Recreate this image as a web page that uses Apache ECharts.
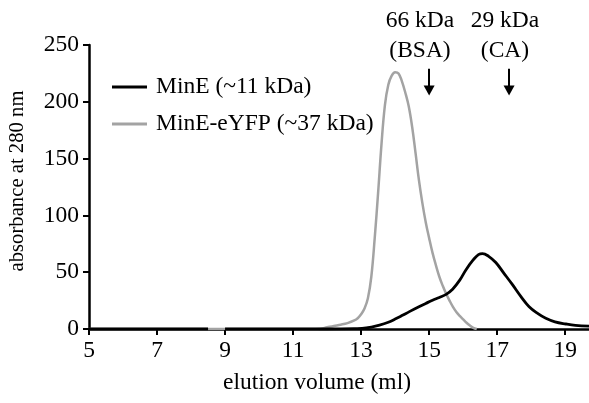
<!DOCTYPE html>
<html><head><meta charset="utf-8">
<script src="https://cdn.jsdelivr.net/npm/echarts@6/dist/echarts.min.js"></script>
<style>html,body{margin:0;padding:0;background:#fff}#c{width:589px;height:403px}</style>
</head><body><div id="c"></div>
<script>
const xTicks = [5, 7, 9, 11, 13, 15, 17, 19];
const yTicks = [0, 50, 100, 150, 200, 250];
const seriesNames = ['MinE (~11 kDa)', 'MinE-eYFP (~37 kDa)'];
const xAxisName = 'elution volume (ml)';
const yAxisName = 'absorbance at 280 nm';

const mineX = [5, 6, 7, 8, 8.5, 8.7, 9.0, 10, 11, 12, 12.8, 13.15, 13.54, 13.8, 14.03, 14.2, 14.42, 14.7, 14.9, 15.1, 15.3, 15.5, 15.69, 15.9, 16.08, 16.3, 16.45, 16.57, 16.75, 16.96, 17.2, 17.45, 17.7, 17.94, 18.2, 18.43, 18.7, 19.02, 19.3, 19.7];
const mineY = [0, 0, 0, 0, 0, null, 0, 0, 0, 0, 0.3, 0.9, 3.5, 6, 9.2, 11.8, 15.3, 19.6, 22.5, 25.3, 27.8, 30.5, 35, 43, 52, 61, 65.5, 66.4, 64, 58.5, 49, 39, 28.5, 19.6, 13.5, 9.4, 6.3, 4.4, 3.2, 2.6];

const yfpX = [5, 6, 7, 8, 8.5, 9.0, 10, 11, 11.5, 11.8, 12.0, 12.2, 12.4, 12.6, 12.8, 12.9, 13.0, 13.1, 13.2, 13.3, 13.4, 13.5, 13.6, 13.7, 13.8, 13.9, 14.0, 14.1, 14.2, 14.3, 14.4, 14.5, 14.6, 14.7, 14.8, 14.9, 15.0, 15.1, 15.2, 15.3, 15.4, 15.5, 15.6, 15.7, 15.8, 15.9, 16.0, 16.1, 16.2, 16.3, 16.4];
const yfpY = [0, 0, 0, 0, 0, 0, 0, 0, 0, 0.3, 1.5, 2.7, 3.8, 5.2, 7.5, 9.5, 13, 18, 27, 46, 80, 120, 163, 197, 215, 223, 226, 225, 218, 208, 196, 178, 155, 131, 111, 94, 80, 67, 56, 46, 38, 31, 25, 19.5, 15, 11.5, 8.5, 5.5, 3, 1, 0];

const arrowX = [15.0, 17.35];
const arrowY = [229, 210];
const annotations = [['66 kDa', '(BSA)'], ['29 kDa', '(CA)']];

const FONT = 'Liberation Serif';
const FS = 23.5;
const chart = echarts.init(document.getElementById('c'));
const zip = (xs, ys) => xs.map((x, i) => [x, ys[i]]);
const txt = (t, x, y, extra) => ({ type: 'text', x: x, y: y, ...(extra || {}), style: { text: t, x: 0, y: 0, align: 'center', verticalAlign: 'middle', fontFamily: FONT, fontSize: FS, fill: '#000' } });

const yName = txt(yAxisName, 18, 181, { rotation: Math.PI / 2 });
yName.style.fontSize = 20.7;

chart.setOption({
  animation: false,
  grid: { left: 89, right: 0, top: 45, bottom: 74, containLabel: false, outerBoundsMode: 'none' },
  legend: {
    data: seriesNames,
    orient: 'vertical',
    left: 112, top: 75, padding: 0,
    itemWidth: 35, itemHeight: 3, itemGap: 13,
    icon: 'rect',
    textStyle: { fontFamily: FONT, fontSize: FS, color: '#000', padding: [0, 0, 0, 4] }
  },
  xAxis: {
    type: 'value', min: 5, max: 19.7, interval: 2,
    axisLine: { lineStyle: { color: '#000', width: 2.5 } },
    axisTick: { show: true, length: 6, lineStyle: { color: '#000', width: 2 }, customValues: xTicks },
    axisLabel: { fontFamily: FONT, fontSize: FS, color: '#000', margin: 10, customValues: xTicks },
    splitLine: { show: false }
  },
  yAxis: {
    type: 'value', min: 0, max: 250, interval: 50,
    axisLine: { show: true, lineStyle: { color: '#000', width: 2.5 } },
    axisTick: { show: true, length: 6, lineStyle: { color: '#000', width: 2 }, customValues: yTicks },
    axisLabel: { fontFamily: FONT, fontSize: FS, color: '#000', margin: 10, customValues: yTicks },
    splitLine: { show: false }
  },
  graphic: [
    txt(xAxisName, 317, 383),
    yName,
    txt(annotations[0][0], 420, 21),
    txt(annotations[0][1], 420, 51),
    txt(annotations[1][0], 505, 21),
    txt(annotations[1][1], 505, 51)
  ],
  series: [
    {
      name: seriesNames[1], type: 'line', data: zip(yfpX, yfpY),
      showSymbol: false, smooth: 0.4, color: '#a3a3a3',
      lineStyle: { color: '#a3a3a3', width: 2.5 }, z: 2
    },
    {
      name: seriesNames[0], type: 'line', data: zip(mineX, mineY),
      showSymbol: false, smooth: 0.4, connectNulls: false, color: '#000',
      lineStyle: { color: '#000', width: 2.8 }, z: 3,
      markLine: {
        silent: true, symbol: ['none', 'triangle'], symbolSize: [11, 10],
        label: { show: false },
        lineStyle: { color: '#000', width: 2, type: 'solid' },
        data: arrowX.map(x => [{ coord: [x, arrowY[0]] }, { coord: [x, arrowY[1]] }])
      }
    }
  ]
});
</script></body></html>
